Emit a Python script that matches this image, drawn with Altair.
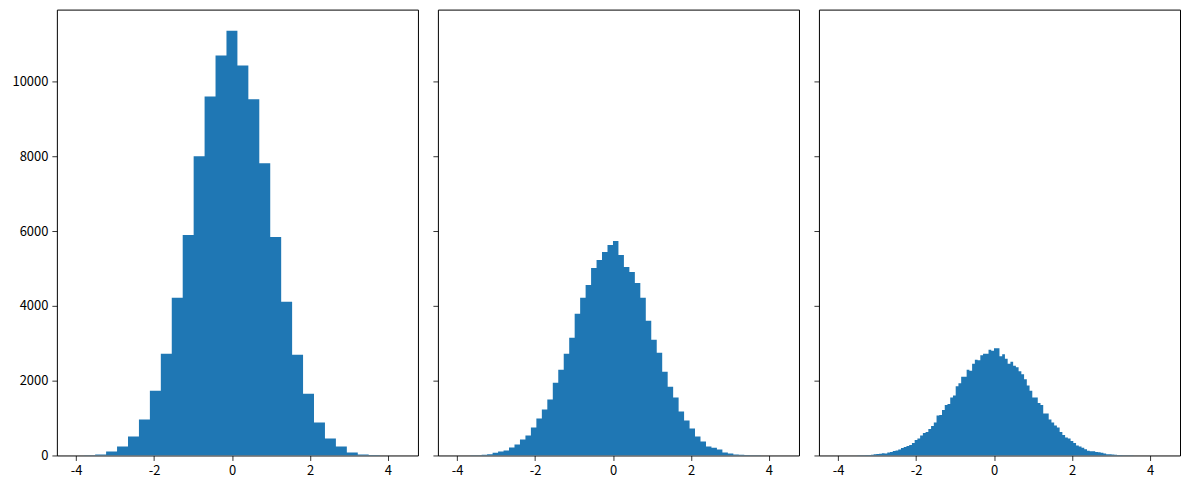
import altair as alt
import pandas as pd

# ---- data (100k normal samples, three bin counts) ----
X_MIN, X_MAX = -4.074, 4.349          # data range covered by the bins

COUNTS_30 = [1, 6, 27, 107, 240, 507, 960, 1733, 2720, 4213,
             5893, 8000, 9600, 10693, 11352, 10427, 9520, 7813, 5840, 4107,
             2693, 1653, 880, 453, 240, 80, 27, 9, 2, 1]

COUNTS_60 = [0, 1, 2, 4, 7, 20, 35, 72, 107, 133,
             213, 293, 427, 533, 747, 987, 1227, 1493, 1947, 2293,
             2720, 3147, 3787, 4213, 4560, 5013, 5227, 5440, 5627, 5733,
             5360, 5040, 4907, 4613, 4213, 3600, 3093, 2747, 2240, 1840,
             1547, 1173, 933, 720, 507, 373, 240, 204, 160, 80,
             53, 27, 18, 9, 6, 3, 1, 1, 1, 0]

COUNTS_120 = [0, 0, 0, 1, 1, 1, 2, 2, 3, 4, 8, 12, 15, 20,
              30, 42, 47, 60, 53, 80, 93, 120, 133, 160, 200, 227, 253, 280, 333, 413,
              453, 533, 600, 627, 707, 787, 880, 1067, 1080, 1213, 1347, 1373, 1547, 1600, 1853, 1933,
              2107, 2107, 2293, 2267, 2453, 2560, 2547, 2680, 2720, 2720, 2827, 2800, 2867, 2867, 2653, 2707,
              2587, 2453, 2507, 2400, 2360, 2253, 2173, 2040, 1867, 1733, 1547, 1547, 1400, 1347, 1120, 1120,
              960, 880, 800, 747, 627, 547, 480, 453, 387, 333, 267, 240, 208, 165, 125, 115,
              110, 94, 85, 75, 50, 30, 30, 23,
              16, 11, 10, 8, 5, 4, 4, 2, 2, 1, 1, 0, 1, 0, 1, 0, 0, 0]

X_TICKS = [-4, -2, 0, 2, 4]
Y_TICKS = [0, 2000, 4000, 6000, 8000, 10000]
X_DOMAIN = [-4.495, 4.77]
Y_DOMAIN = [0, 11920]

BAR_COLOR = "#1f77b4"
FONT = "Noto Sans CJK KR"


def hist_frame(counts):
    """Left bin edges with their counts, plus the closing right edge."""
    n = len(counts)
    w = (X_MAX - X_MIN) / n
    edges = [X_MIN + i * w for i in range(n)] + [X_MAX]
    return pd.DataFrame({"edge": edges, "count": list(counts) + [0]})


def panel(counts, show_y_labels):
    return alt.Chart(hist_frame(counts)).mark_area(
        color=BAR_COLOR, opacity=1, interpolate="step-after", clip=True
    ).encode(
        x=alt.X("edge:Q",
                scale=alt.Scale(domain=X_DOMAIN, nice=False, zero=False),
                axis=alt.Axis(values=X_TICKS, title=None,
                              labelExpr="datum.value + ''")),
        y=alt.Y("count:Q",
                scale=alt.Scale(domain=Y_DOMAIN, nice=False),
                axis=alt.Axis(values=Y_TICKS, title=None, labels=show_y_labels,
                              labelExpr="datum.value + ''")),
    ).properties(width=362, height=447)


chart = alt.hconcat(
    panel(COUNTS_30, True),
    panel(COUNTS_60, False),
    panel(COUNTS_120, False),
    spacing=13,
).properties(
    padding={"left": 3, "top": 0, "right": 0, "bottom": 0}
).configure_view(
    stroke="black", strokeWidth=1
).configure_axis(
    domain=False, grid=False,
    ticks=True, tickColor="black", tickSize=5, tickWidth=0.8,
    labelFont=FONT, labelFontSize=13, labelColor="black", labelPadding=4,
)

chart.save("out.html", embed_options={"renderer": "svg", "actions": False})
